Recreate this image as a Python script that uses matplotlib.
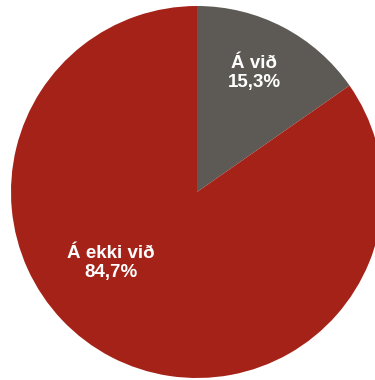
import matplotlib
matplotlib.use("Agg")
import matplotlib.pyplot as plt

labels = ["Á við", "Á ekki við"]
shares = [15.3, 84.7]
colors = ["#5d5955", "#a52219"]
# label anchor positions (pixel coords, origin bottom-left)
label_pos = [(254, 307), (111, 117)]

fig = plt.figure(figsize=(3.75, 3.8), dpi=100)
ax = fig.add_axes([0, 0, 1, 1])
ax.pie(shares, colors=colors, startangle=90, counterclock=False,
       center=(197, 188), radius=186, frame=True)
ax.set_xlim(0, 375)
ax.set_ylim(0, 380)
ax.axis("off")

for lab, val, (x, y) in zip(labels, shares, label_pos):
    txt = f"{lab}\n{val:.1f}%".replace(".", ",")
    ax.text(x, y, txt, ha="center", va="center", color="white",
            fontsize=13.5, fontweight="bold", family="Liberation Sans",
            linespacing=1.2)

fig.savefig("out.png", dpi=100)
